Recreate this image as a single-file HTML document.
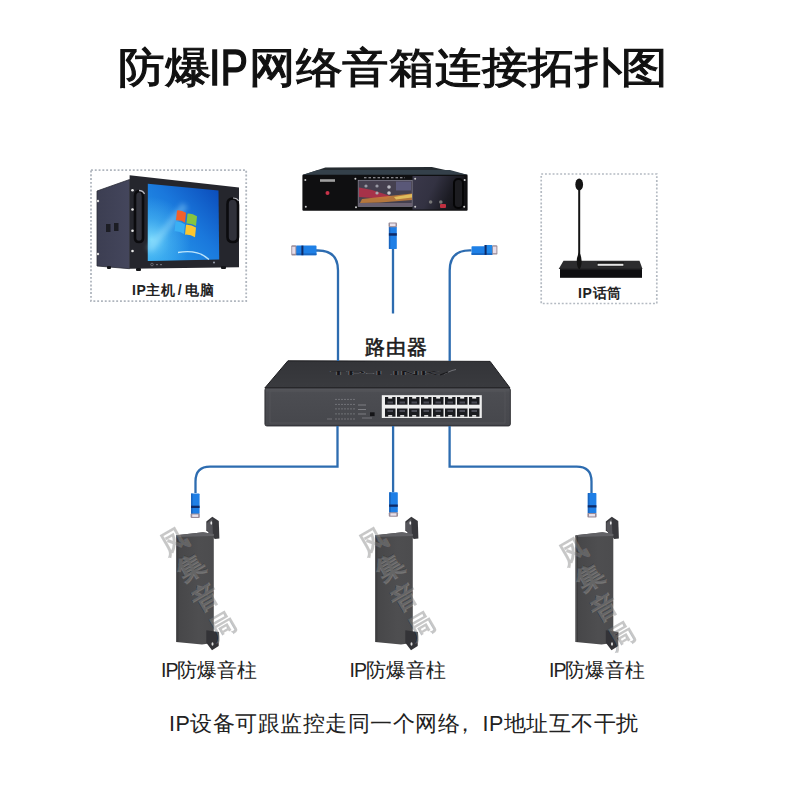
<!DOCTYPE html>
<html><head><meta charset="utf-8">
<style>
html,body{margin:0;padding:0;background:#fff;}
body{width:790px;height:790px;position:relative;overflow:hidden;font-family:"Liberation Sans",sans-serif;}
.t{position:absolute;white-space:nowrap;line-height:1;}
.ttl{top:47px;font-size:42px;color:#111;-webkit-text-stroke:1.1px #111;transform-origin:0 0;transform:scaleX(1.108);}
#ip{top:43px;font-size:50px;color:#111;-webkit-text-stroke:1.4px #111;transform-origin:0 0;transform:scaleX(0.82);}
.lab{font-size:14px;font-weight:bold;color:#222;letter-spacing:0.5px;}
.lab i{font-style:normal;padding:0 3px 0 2.5px;}
.spk{font-size:19.5px;color:#222;}
.spk i{font-style:normal;letter-spacing:-1px;}
#bottom{left:169px;top:714px;font-size:21.5px;letter-spacing:0.48px;color:#222;}
svg{position:absolute;left:0;top:0;}
</style></head><body>
<svg width="790" height="790" viewBox="0 0 790 790">
  <defs>
    <filter id="blur2" x="-50%" y="-50%" width="200%" height="200%"><feGaussianBlur stdDeviation="2.5"/></filter>
    <filter id="blur05"><feGaussianBlur stdDeviation="0.5"/></filter>
    <linearGradient id="scr" x1="1" y1="0" x2="0" y2="1">
      <stop offset="0" stop-color="#0a48b8"/>
      <stop offset="0.45" stop-color="#1a78dc"/>
      <stop offset="1" stop-color="#2aa2ee"/>
    </linearGradient>
    <radialGradient id="scrglow" cx="0.05" cy="0.72" r="0.55">
      <stop offset="0" stop-color="#8ae4ff" stop-opacity="0.85"/>
      <stop offset="0.5" stop-color="#5cc8f8" stop-opacity="0.4"/>
      <stop offset="1" stop-color="#5cc8f8" stop-opacity="0"/>
    </radialGradient>
    <linearGradient id="side" x1="0" y1="0" x2="1" y2="0">
      <stop offset="0" stop-color="#3c3e52"/>
      <stop offset="1" stop-color="#44465c"/>
    </linearGradient>
    <linearGradient id="rtop" x1="0" y1="0" x2="0" y2="1">
      <stop offset="0" stop-color="#333438"/>
      <stop offset="1" stop-color="#3a3b3f"/>
    </linearGradient>
    <linearGradient id="rfront" x1="0" y1="0" x2="0" y2="1">
      <stop offset="0" stop-color="#58595e"/>
      <stop offset="0.12" stop-color="#4c4d52"/>
      <stop offset="1" stop-color="#46474c"/>
    </linearGradient>
    <linearGradient id="spkg" x1="0" y1="0" x2="1" y2="0">
      <stop offset="0" stop-color="#464648"/>
      <stop offset="0.6" stop-color="#4e4e50"/>
      <stop offset="1" stop-color="#4c4c4e"/>
    </linearGradient>
    <linearGradient id="ampr" x1="0" y1="0" x2="1" y2="0.3">
      <stop offset="0" stop-color="#3a384a"/>
      <stop offset="0.45" stop-color="#333242"/>
      <stop offset="0.8" stop-color="#1c1c24"/>
      <stop offset="1" stop-color="#141418"/>
    </linearGradient>
    <linearGradient id="amp" x1="0" y1="0" x2="0" y2="1">
      <stop offset="0" stop-color="#4a5560"/>
      <stop offset="0.3" stop-color="#803838"/>
      <stop offset="0.55" stop-color="#c85a30"/>
      <stop offset="0.75" stop-color="#a07040"/>
      <stop offset="1" stop-color="#4a4550"/>
    </linearGradient>
    <g id="conn-v">
      <rect x="0" y="0" width="8.6" height="20.5" rx="0.8" fill="#1f7fe6"/>
      <rect x="0" y="0" width="1.6" height="20.5" fill="#1a66c0"/>
      <rect x="0" y="12.2" width="8.6" height="2.3" fill="#0f2a66"/>
      <rect x="-0.4" y="20" width="9.2" height="4.4" rx="1" fill="#9a8c98"/>
      <rect x="1.2" y="21" width="6" height="2.4" fill="#e8e0ea"/>
    </g>
    <g id="spk">
      <path d="M30.3,-11.4 L36.3,-16.2 L42.8,-11.9 L43.4,5.4 L38.8,5.9 L30.3,-2.7 Z" fill="#38383c"/>
      <path d="M31,-10 L36.3,-14.5 L37,5 L31,-3 Z" fill="#55555a"/>
      <ellipse cx="35.3" cy="-10" rx="0.9" ry="1.8" fill="#e8e8e8"/>
      <path d="M0,2.2 L27,-0.8 L37.8,1 V98 L37,110 L26,111.5 L0,109 Z" fill="url(#spkg)"/>
      <path d="M0,2.2 L27,-0.8 L37.8,1 L37.8,3 L0,4 Z" fill="#626266"/>
      <rect x="0" y="3" width="1.3" height="106" fill="#58585a"/><rect x="1.3" y="3" width="1" height="106" fill="#38383a"/>
      <path d="M30.3,97.3 L37.3,98.3 L43,99 L42.7,113 L36,117.2 L30.3,109.8 Z" fill="#333337"/>
      <ellipse cx="36.5" cy="111" rx="1" ry="1.8" fill="#dddddd"/>
    </g>
    <g id="wm" style="font-family:'Liberation Sans',sans-serif;font-size:27px;font-weight:900" text-anchor="middle">
      <g fill="#000" fill-opacity="0.28" transform="translate(-0.8,-0.9)" filter="url(#blur05)">
        <text transform="translate(-2,541) rotate(-30)" dy="10">凤</text>
        <text transform="translate(15,566.5) rotate(-30)" dy="10">集</text>
        <text transform="translate(29.5,597) rotate(-30)" dy="10">音</text>
        <text transform="translate(46.5,626) rotate(-30)" dy="10">局</text>
      </g>
      <g fill="#fff" fill-opacity="0.15" stroke="#fff" stroke-opacity="0.15" stroke-width="1">
        <text transform="translate(-2,541) rotate(-30)" dy="10">凤</text>
        <text transform="translate(15,566.5) rotate(-30)" dy="10">集</text>
        <text transform="translate(29.5,597) rotate(-30)" dy="10">音</text>
        <text transform="translate(46.5,626) rotate(-30)" dy="10">局</text>
      </g>
    </g>
  </defs>

  <!-- ===== left dotted box: computer ===== -->
  <rect x="91" y="170.2" width="155.2" height="130.9" fill="none" stroke="#b0b6be" stroke-width="1.8" stroke-dasharray="1.9 1.9"/>
  <polygon points="97,191 129.6,179.5 129.6,268.7 97,266" fill="url(#side)" stroke="#2a2b36" stroke-width="0.8"/>
  <rect x="106" y="224" width="4.5" height="8" fill="#1c1d24"/>
  <rect x="114" y="223" width="4.5" height="8" fill="#1c1d24"/>
  <circle cx="98" cy="201" r="1.2" fill="#ddd"/>
  <circle cx="98" cy="254" r="1.2" fill="#ddd"/>
  <polygon points="129.6,175.3 239,187.5 239,267.2 129.6,268.7" fill="#25262d"/>
  <polygon points="147.8,183.7 218.5,190.5 219.2,259.6 147.8,261.1" fill="url(#scr)"/>
  <polygon points="147.8,183.7 218.5,190.5 219.2,259.6 147.8,261.1" fill="url(#scrglow)"/>
  <path d="M178,252.5 Q198,249 209,259.5" stroke="#d8f4ff" stroke-width="1.3" fill="none" opacity="0.85"/>
  <path d="M149,250 L185,205" stroke="#b0ecff" stroke-width="7" opacity="0.35" filter="url(#blur2)"/>
  <!-- windows logo -->
  <g transform="translate(175,209) skewY(12)">
    <path d="M2,1 Q6,-0.5 11,1.5 L10,11.5 Q6,9.5 1,11 Z" fill="#f2602a"/>
    <path d="M12.5,2 Q17,0.5 22,2.5 L21,12.5 Q17,10.5 11.5,12 Z" fill="#86c440"/>
    <path d="M0.5,12.5 Q5,11 10,13 L9,23 Q4.5,21 -0.5,22.5 Z" fill="#3ab0f4"/>
    <path d="M11,13.5 Q16,12 21,14 L20,24 Q15.5,22 10,23.5 Z" fill="#fcc630"/>
  </g>
  <!-- handles -->
  <path d="M135,196 Q135,191 140,191 Q143,192 143,197 L143,238 Q143,242 139,242 Q135,242 135,238 Z" fill="#30313a" stroke="#0b0b0e" stroke-width="2.6"/>
  <path d="M139,190.5 Q143,190.5 144.5,194" stroke="#b8b8c0" stroke-width="1.3" fill="none"/>
  <path d="M227.5,204 Q227.5,198.5 233,198.5 Q238,199 238,205 L238,237 Q238,242 233,242 Q227.5,242 227.5,237 Z" fill="#30313a" stroke="#0b0b0e" stroke-width="2.6"/>
  <path d="M233,198 Q237,198 238.5,201" stroke="#b8b8c0" stroke-width="1.2" fill="none"/>
  <circle cx="132.5" cy="190.3" r="1.3" fill="#e6e6e6"/>
  <circle cx="132.5" cy="209.5" r="1.3" fill="#e6e6e6"/>
  <circle cx="132.5" cy="230.8" r="1.3" fill="#e6e6e6"/>
  <circle cx="132.5" cy="251" r="1.3" fill="#e6e6e6"/>
  <circle cx="152" cy="264.5" r="1.3" fill="none" stroke="#8a8c96" stroke-width="0.6"/>
  <rect x="156" y="264" width="2" height="1.2" fill="#6a6c76"/><rect x="160" y="264" width="2" height="1.2" fill="#6a6c76"/>
  <circle cx="214" cy="262.5" r="1" fill="#9aa0b0"/>
  <rect x="136" y="268" width="5" height="3" rx="1" fill="#15161a"/>
  <rect x="221" y="266" width="5" height="3" rx="1" fill="#15161a"/>
  <rect x="107" y="266" width="4" height="3" rx="1" fill="#15161a"/>

  <!-- ===== top rack device ===== -->
  <polygon points="302.4,175 325.4,167.4 431.8,167 468,175" fill="#252b30"/>
  <polygon points="318,170 450,170 468,175 302.4,175" fill="#34404a"/>
  <rect x="302.4" y="174.8" width="165.2" height="35.9" rx="1" fill="#0f0f11"/>
  <rect x="412.5" y="176" width="52" height="33.5" fill="url(#ampr)"/>
  <g filter="url(#blur05)">
  <rect x="358.2" y="180.3" width="54" height="26" fill="#45414f" stroke="#8d8a9a" stroke-width="0.7"/>
  <rect x="396" y="181.5" width="15" height="9" fill="#5a5878"/>
  <polygon points="359,187.5 372,190 392,196.5 386,199 359,197" fill="#b83048" opacity="0.85"/>
  <polygon points="362,199 380,197 412,193.5 412,200 380,202.5 360,203" fill="#c8803a" opacity="0.85"/>
  <polygon points="394,197 412,194 412,197.5 396,199.5" fill="#e8c860" opacity="0.85"/>
  <rect x="359" y="203" width="53" height="3" fill="#6a6070"/>
  <circle cx="366" cy="186" r="1.6" fill="#9a9aa5"/><circle cx="377" cy="186" r="1.6" fill="#9a9aa5"/><circle cx="389" cy="187" r="1.8" fill="#b8b8c0"/>
  <circle cx="377" cy="193" r="1.6" fill="#aaaab0"/><circle cx="389" cy="193" r="1.8" fill="#c8c8cc"/>
  <path d="M364,177.8 H405" stroke="#c8c8d0" stroke-width="1.1" stroke-dasharray="2.5 2" opacity="0.85"/>
  </g>
  <rect x="320" y="179.2" width="15" height="2.6" fill="#d0d0d0" opacity="0.75"/>
  
  <circle cx="327.5" cy="193" r="2" fill="#c8334a"/>
  <rect x="454" y="179" width="9" height="29" rx="4" fill="#1c1c20" stroke="#050506" stroke-width="2"/>
  <circle cx="430.6" cy="202" r="1.8" fill="#777"/>
  <circle cx="440.8" cy="202" r="1.8" fill="#777"/>
  <rect x="440" y="204" width="6" height="4" rx="1" fill="#c03040"/>
  <g fill="#cfcfcf">
    <circle cx="305.3" cy="180" r="1"/><circle cx="305.8" cy="206.7" r="1"/>
    <circle cx="355.4" cy="178.8" r="1"/><circle cx="356" cy="207.3" r="1"/>
    <circle cx="415.2" cy="178.8" r="1"/><circle cx="415.2" cy="206.7" r="1"/>
    <circle cx="464.7" cy="180" r="1"/><circle cx="464.2" cy="206.7" r="1"/>
  </g>

  <!-- ===== mic box ===== -->
  <rect x="541.2" y="174" width="115.6" height="129.5" fill="none" stroke="#b4bac2" stroke-width="1.7" stroke-dasharray="1.9 1.9"/>
  <ellipse cx="579.2" cy="184.5" rx="3.9" ry="6" fill="#141414"/>
  <path d="M579.2,190 L579.2,256" stroke="#141414" stroke-width="2"/>
  <polygon points="563.5,260.8 639.5,260.8 642.5,268.9 558.7,268.9" fill="#2c2c2e"/>
  <rect x="597" y="262" width="27" height="4.4" fill="#1a1a1a"/>
  <rect x="597.6" y="263.8" width="25.8" height="2" fill="#e4e4e4"/>
  <rect x="560" y="268.5" width="82" height="9.3" fill="#0e0e10"/>
  <path d="M560,269 H642" stroke="#3a3a3c" stroke-width="0.6"/>
  <path d="M579.2,252 Q581.9,257 581.6,262 Q581.2,268 579.2,269.3 Q577.2,268 576.8,262 Q576.5,257 579.2,252 Z" fill="#121212"/>

  <!-- ===== router ===== -->
  <polygon points="287.9,360.8 490.1,361.4 510,388 264.8,388" fill="url(#rtop)" stroke="#1c1c1f" stroke-width="1"/>
  <g transform="translate(0,374.5) scale(1,0.5) translate(0,-374.5)">
    <text x="330" y="376" font-family="Liberation Sans, sans-serif" font-size="10" font-weight="bold" fill="#151518" stroke="#6a6b70" stroke-width="0.35" textLength="110" lengthAdjust="spacingAndGlyphs">TP-LINK</text>
  </g>
  <path d="M444,374 L452,370.5 L456,369.5" stroke="#8a8b90" stroke-width="0.7" fill="none"/>
  <path d="M440,375 L448,372" stroke="#18181b" stroke-width="1.2"/>
  <rect x="264.9" y="388" width="245.5" height="38" rx="2" fill="url(#rfront)" stroke="#222226" stroke-width="0.8"/>
  <rect x="270" y="391" width="235" height="32" fill="none" stroke="#55565b" stroke-width="0.8"/>
  <g stroke="#76777c" stroke-width="0.9" stroke-dasharray="2 1">
    <path d="M335,399.4 H356"/><path d="M335,404.4 H356"/><path d="M335,408.9 H356"/><path d="M335,413.9 H356"/><path d="M335,419 H356"/>
  </g>
  <path d="M327,419 H332" stroke="#76777c" stroke-width="0.9"/>
  <path d="M358,405 H366 M358,409.5 H366 M358,414 H366" stroke="#8a8b90" stroke-width="0.8"/>
  <path d="M362,418 H372" stroke="#8a8b90" stroke-width="0.7"/>
  <rect x="370" y="412.3" width="4.6" height="3.8" fill="#151518"/>
  <rect x="381.8" y="395.2" width="100" height="22.8" fill="#eeeeee"/>
  <g fill="#1a1b1f">
    <rect x="385" y="397" width="10.5" height="7.7"/><rect x="397" y="397" width="10.5" height="7.7"/>
    <rect x="409" y="397" width="10.5" height="7.7"/><rect x="421" y="397" width="10.5" height="7.7"/>
    <rect x="433" y="397" width="10.5" height="7.7"/><rect x="445" y="397" width="10.5" height="7.7"/>
    <rect x="457" y="397" width="10.5" height="7.7"/><rect x="469" y="397" width="10.5" height="7.7"/>
    <rect x="385" y="408.5" width="10.5" height="8.2"/><rect x="397" y="408.5" width="10.5" height="8.2"/>
    <rect x="409" y="408.5" width="10.5" height="8.2"/><rect x="421" y="408.5" width="10.5" height="8.2"/>
    <rect x="433" y="408.5" width="10.5" height="8.2"/><rect x="445" y="408.5" width="10.5" height="8.2"/>
    <rect x="457" y="408.5" width="10.5" height="8.2"/><rect x="469" y="408.5" width="10.5" height="8.2"/>
  </g>
  <g fill="#eeeeee"><rect x="388.2" y="397" width="4" height="1.6"/><rect x="400.2" y="397" width="4" height="1.6"/><rect x="412.2" y="397" width="4" height="1.6"/><rect x="424.2" y="397" width="4" height="1.6"/><rect x="436.2" y="397" width="4" height="1.6"/><rect x="448.2" y="397" width="4" height="1.6"/><rect x="460.2" y="397" width="4" height="1.6"/><rect x="472.2" y="397" width="4" height="1.6"/><rect x="388.2" y="415.1" width="4" height="1.6"/><rect x="400.2" y="415.1" width="4" height="1.6"/><rect x="412.2" y="415.1" width="4" height="1.6"/><rect x="424.2" y="415.1" width="4" height="1.6"/><rect x="436.2" y="415.1" width="4" height="1.6"/><rect x="448.2" y="415.1" width="4" height="1.6"/><rect x="460.2" y="415.1" width="4" height="1.6"/><rect x="472.2" y="415.1" width="4" height="1.6"/></g>
  <g fill="#4a4b55"><rect x="387.5" y="401.5" width="5.5" height="2"/><rect x="399.5" y="401.5" width="5.5" height="2"/><rect x="411.5" y="401.5" width="5.5" height="2"/><rect x="423.5" y="401.5" width="5.5" height="2"/><rect x="435.5" y="401.5" width="5.5" height="2"/><rect x="447.5" y="401.5" width="5.5" height="2"/><rect x="459.5" y="401.5" width="5.5" height="2"/><rect x="471.5" y="401.5" width="5.5" height="2"/><rect x="387.5" y="410" width="5.5" height="2"/><rect x="399.5" y="410" width="5.5" height="2"/><rect x="411.5" y="410" width="5.5" height="2"/><rect x="423.5" y="410" width="5.5" height="2"/><rect x="435.5" y="410" width="5.5" height="2"/><rect x="447.5" y="410" width="5.5" height="2"/><rect x="459.5" y="410" width="5.5" height="2"/><rect x="471.5" y="410" width="5.5" height="2"/></g>

  <!-- ===== cables ===== -->
  <g fill="none" stroke="#2d6cb0" stroke-width="2.3">
    <path d="M316,250.5 H318 Q338,250.5 338,270.5 V361"/>
    <path d="M393,249 V313.5"/>
    <path d="M471.5,250.4 H469.7 Q449.7,250.4 449.7,270.4 V361"/>
    <path d="M337.5,426 V466.7 H210 Q195.5,466.7 195.5,481.5 V493"/>
    <path d="M393.1,426 V492.3"/>
    <path d="M449.6,426 V466.7 H576.7 Q591.5,466.7 591.5,481.5 V493"/>
  </g>
  <!-- upper connectors -->
  <g>
    <rect x="296" y="245.6" width="20.5" height="9.6" rx="0.8" fill="#1f80e6"/>
    <rect x="296" y="253.4" width="20.5" height="1.8" fill="#1a66c0"/>
    <rect x="301.4" y="245.6" width="2" height="9.6" fill="#0f2a66"/>
    <rect x="291.3" y="245.2" width="5" height="10.4" rx="1" fill="#9a8c98"/>
    <rect x="292.2" y="246.8" width="3.2" height="7" fill="#e6dce8"/>
  </g>
  <g transform="translate(388.9,249) scale(1,-1)"><use href="#conn-v" transform="scale(0.92,1.09)"/></g>
  <g>
    <rect x="471.5" y="246.3" width="21" height="8.6" rx="0.8" fill="#1f80e6"/>
    <rect x="484.5" y="245" width="8" height="9.6" rx="0.8" fill="#2088ea"/>
    <rect x="471.5" y="253.2" width="21" height="1.7" fill="#1a66c0"/>
    <rect x="484.6" y="245" width="2" height="9.8" fill="#0f2a66"/>
    <rect x="492.2" y="245.2" width="5.2" height="9.4" rx="1.2" fill="#9a8c98"/>
    <rect x="493" y="246.6" width="3.4" height="6.6" fill="#e6dce8"/>
  </g>
  <!-- lower connectors -->
  <use href="#conn-v" x="191" y="493.5"/>
  <use href="#conn-v" x="389.2" y="492.3"/>
  <use href="#conn-v" x="587.8" y="493"/>

  <!-- ===== speakers ===== -->
  <use href="#spk" x="176" y="533"/>
  <use href="#spk" x="375" y="533"/>
  <use href="#spk" x="575.5" y="533"/>
  <use href="#wm" x="176" y="0"/>
  <use href="#wm" x="375" y="0"/>
  <use href="#wm" x="575" y="10"/>
</svg>
<div class="t ttl" style="left:118px">防爆</div>
<div class="t" id="ip" style="left:209px">IP</div>
<div class="t ttl" style="left:248.5px">网络音箱连接拓扑图</div>
<div class="t lab" style="left:132px;top:283px;">IP主机<i>/</i>电脑</div>
<div class="t lab" style="left:578px;top:285.5px;letter-spacing:0.7px">IP话筒</div>
<div class="t" style="left:365px;top:337px;font-size:20px;letter-spacing:1px;color:#1a1a1a;-webkit-text-stroke:0.6px #1a1a1a;">路由器</div>
<div class="t spk" style="left:161px;top:661px;"><i>IP</i>防爆音柱</div>
<div class="t spk" style="left:349.5px;top:661px;"><i>IP</i>防爆音柱</div>
<div class="t spk" style="left:549px;top:661px;"><i>IP</i>防爆音柱</div>
<div class="t" id="bottom">IP设备可跟监控走同一个网络<span style="position:relative;left:-6px">，</span>IP地址互不干扰</div>
</body></html>
